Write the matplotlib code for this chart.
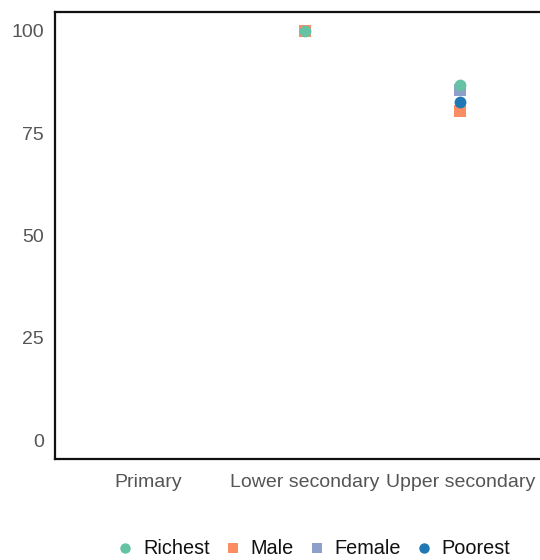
import matplotlib
matplotlib.use("Agg")
import matplotlib.pyplot as plt
from matplotlib.lines import Line2D

plt.rcParams['font.family'] = ['Liberation Sans', 'DejaVu Sans']

categories = ["Primary", "Lower secondary", "Upper secondary"]
richest = [None, 100, 86.7]
male = [None, 100, 80.3]
female = [None, None, 85.6]
poorest = [None, None, 82.6]
yticks = [0, 25, 50, 75, 100]

colors = {"Richest": "#66c2a5", "Male": "#fc8d62", "Female": "#8da0cb", "Poorest": "#1f78b4"}
markers = {"Richest": "o", "Male": "s", "Female": "s", "Poorest": "o"}
series = {"Richest": richest, "Male": male, "Female": female, "Poorest": poorest}
draw_order = ["Male", "Female", "Richest", "Poorest"]
legend_order = ["Richest", "Male", "Female", "Poorest"]

fig = plt.figure(figsize=(5.4, 5.6), dpi=100)
W, H = 540, 560
left, right, top, bottom = 55, 554, 12, 459
ax = fig.add_axes([left / W, 1 - bottom / H, (right - left) / W, (bottom - top) / H])

for name in draw_order:
    vals = series[name]
    xs = [i for i, v in enumerate(vals) if v is not None]
    ys = [v for v in vals if v is not None]
    ax.plot(xs, ys, linestyle="none", marker=markers[name], markersize=8.5,
            color=colors[name], markeredgewidth=0, zorder=3)

ax.set_xlim(-0.6, 2.6)
ax.set_ylim(-4.6, 104.6)
ax.set_xticks(range(len(categories)))
ax.set_xticklabels(categories)
ax.set_yticks(yticks)
ax.tick_params(axis="both", length=0, labelsize=14, labelcolor="#555555")
ax.tick_params(axis="x", pad=10.5)
ax.tick_params(axis="y", pad=8)
for s in ax.spines.values():
    s.set_linewidth(1.6)
    s.set_color("#111111")

handles = [Line2D([], [], linestyle="none", marker=markers[n], color=colors[n],
                  markersize=7.5, markeredgewidth=0) for n in legend_order]
fig.legend(handles, legend_order, loc="center", bbox_to_anchor=(314 / W, 1 - 549 / H),
           ncol=4, frameon=False, fontsize=14.3, handlelength=0.8, handletextpad=0.5,
           columnspacing=0.75, labelcolor="#111111", borderpad=0)

fig.savefig("out.png", dpi=100)
